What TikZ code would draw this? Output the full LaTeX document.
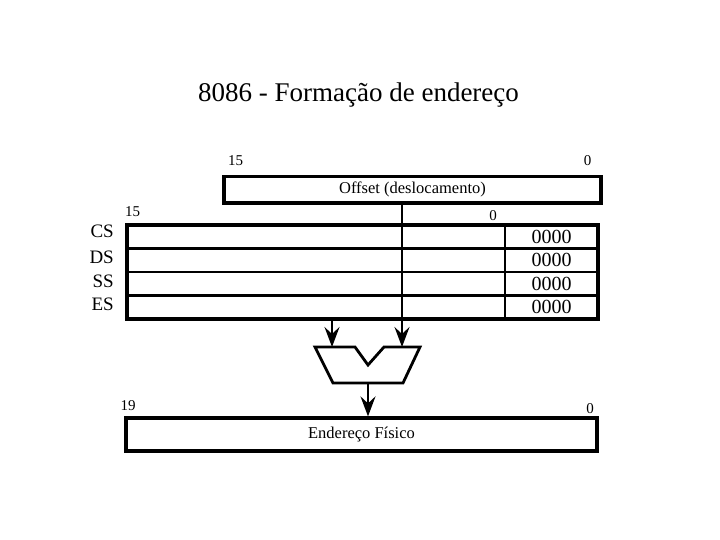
\documentclass[tikz,border=0pt]{standalone}
\usepackage{fontspec}
\setmainfont{Liberation Serif}
\usetikzlibrary{positioning, arrows.meta, calc}
\definecolor{ink}{HTML}{000000}
\definecolor{paper}{HTML}{FFFFFF}
\tikzset{
  regbox/.style={draw=ink, line width=3.2pt, inner sep=0pt, font=\fontsize{16.5}{18}\selectfont},
  divider/.style={draw=ink, line width=2.2pt},
  bus/.style={draw=ink, line width=2.2pt, -{Stealth[length=20pt, width=15pt, inset=7pt]}},
  bitlabel/.style={anchor=base, inner sep=0pt, font=\fontsize{15}{17}\selectfont},
  reglabel/.style={anchor=base east, inner sep=0pt, font=\fontsize{19}{21}\selectfont},
  zeros/.style={inner sep=0pt, font=\fontsize{20}{22}\selectfont},
  adder/.style={draw=ink, line width=2.8pt, line join=miter}
}

\begin{document}
\begin{tikzpicture}[x=1pt, y=-1pt]
        \useasboundingbox (0,0) rectangle (720,540);
        \fill[paper] (0,0) rectangle (720,540);
        \node[anchor=base, inner sep=0pt, font=\fontsize{27}{30}\selectfont] (title) at (358.5,102) {8086 - Formação de endereço};
        \node[regbox, minimum width=377pt, minimum height=26.5pt] (offset) at (412.5,189.75) {Offset (deslocamento)};
        \node[bitlabel] (offhi) at (235.5,166) {15};
        \node[bitlabel] (offlo) at (587.5,165.5) {0};
        \node[regbox, minimum width=471pt, minimum height=94pt] (seg) at (362.5,272) {};
        \node[bitlabel] (seghi) at (132.5,216) {15};
        \node[bitlabel] (seglo) at (493,221) {0};
        \foreach \reg/\yb [count=\i] in {CS/237,DS/263,SS/287,ES/310} {
          \node[reglabel] (reg\i) at (114,\yb) {\reg};
          \node[zeros] (zero\i) at (551.5,{225+23.5*\i-11.75}) {0000};
        }
        \foreach \i in {1,2,3} {
          \draw[divider] (127,{225+23.5*\i}) -- (598,{225+23.5*\i});
        }
        \draw[divider] (505,225) -- (505,319);
        \draw[adder] (315,347) -- (355,347) -- (368,365) -- (384,347) -- (420,347) -- (403,383) -- (333,383) -- cycle;
        \coordinate (addL) at (332,347);
        \coordinate (addR) at (402,347);
        \coordinate (addO) at (368,383);
        \node[regbox, minimum width=471pt, minimum height=33pt] (phys) at (361.5,434.5) {Endereço Físico};
        \node[bitlabel] (physhi) at (128,410) {19};
        \node[bitlabel] (physlo) at (590,413) {0};
        \draw[bus] (addL |- seg.south) -- (addL);
        \draw[bus] (addR |- offset.south) -- (addR);
        \draw[bus] (addO) -- (addO |- phys.north);
      \end{tikzpicture}
\end{document}
